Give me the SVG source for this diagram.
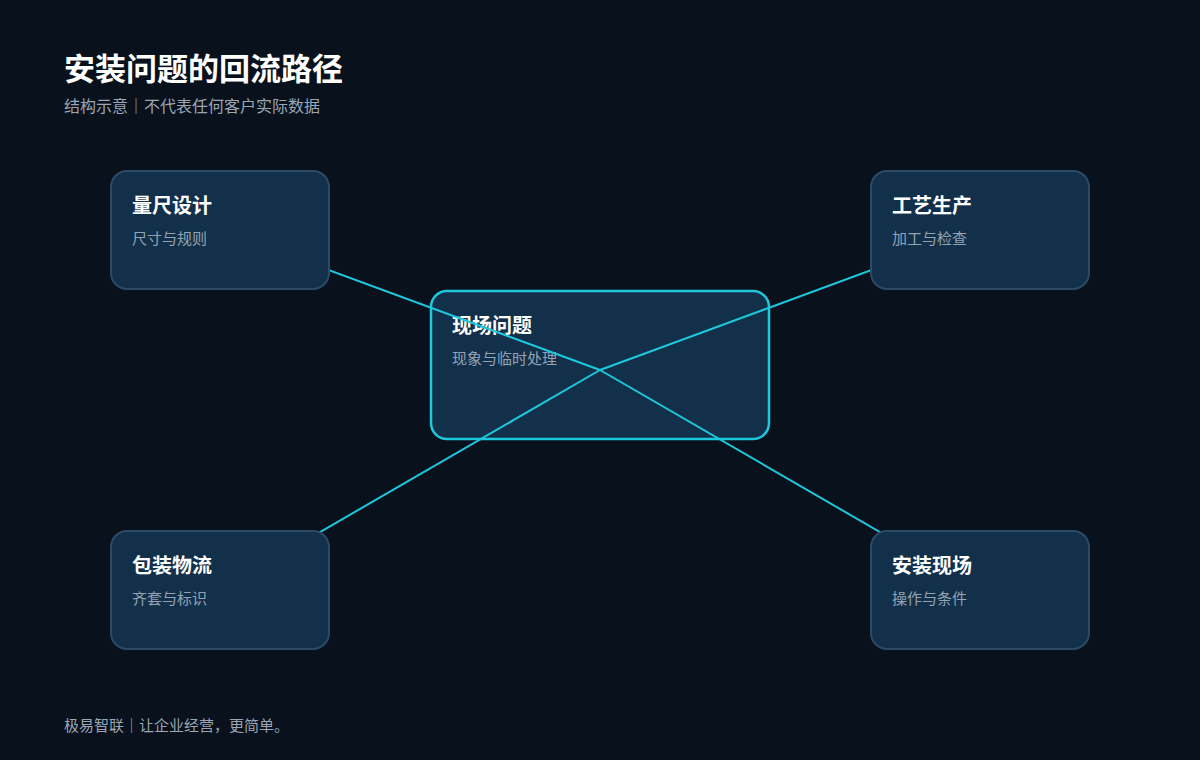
<svg xmlns="http://www.w3.org/2000/svg" width="1200" height="760" viewBox="0 0 1200 760">
<style>
text{font-family:"Noto Sans CJK SC","Noto Sans",sans-serif}
.title{font-size:31px;font-weight:700;fill:#ffffff}
.sub{font-size:16px;fill:#9aa6b4}
.box{fill:#13304a;stroke:#2c4a66;stroke-width:2}
.hub{fill:#13304a;stroke:#1ec8dc;stroke-width:2.5}
.nt{font-size:20px;font-weight:700;fill:#ffffff}
.ns{font-size:15px;fill:#93a3b4}
.edge{stroke:#1ec8dc;stroke-width:2;fill:none}
.foot{font-size:15px;fill:#9aa6b4}
</style>
<rect width="1200" height="760" fill="#08111c"/>
<text class="title" x="64" y="80">安装问题的回流路径</text>
<text class="sub" x="64" y="112">结构示意｜不代表任何客户实际数据</text>
<g id="hub">
<rect class="hub" x="431" y="291" width="338" height="148" rx="16"/>
<text class="nt" x="452" y="333">现场问题</text>
<text class="ns" x="452" y="364">现象与临时处理</text>
</g>
<g id="connectors">
<line class="edge" x1="600" y1="370" x2="220" y2="230"/>
<line class="edge" x1="600" y1="370" x2="980" y2="230"/>
<line class="edge" x1="600" y1="370" x2="220" y2="590"/>
<line class="edge" x1="600" y1="370" x2="980" y2="590"/>
</g>
<g id="n1">
<rect class="box" x="111" y="171" width="218" height="118" rx="16"/>
<text class="nt" x="132" y="213">量尺设计</text>
<text class="ns" x="132" y="244">尺寸与规则</text>
</g>
<g id="n2">
<rect class="box" x="871" y="171" width="218" height="118" rx="16"/>
<text class="nt" x="892" y="213">工艺生产</text>
<text class="ns" x="892" y="244">加工与检查</text>
</g>
<g id="n3">
<rect class="box" x="111" y="531" width="218" height="118" rx="16"/>
<text class="nt" x="132" y="573">包装物流</text>
<text class="ns" x="132" y="604">齐套与标识</text>
</g>
<g id="n4">
<rect class="box" x="871" y="531" width="218" height="118" rx="16"/>
<text class="nt" x="892" y="573">安装现场</text>
<text class="ns" x="892" y="604">操作与条件</text>
</g>
<text class="foot" x="64" y="731">极易智联｜让企业经营，更简单。</text>
</svg>
